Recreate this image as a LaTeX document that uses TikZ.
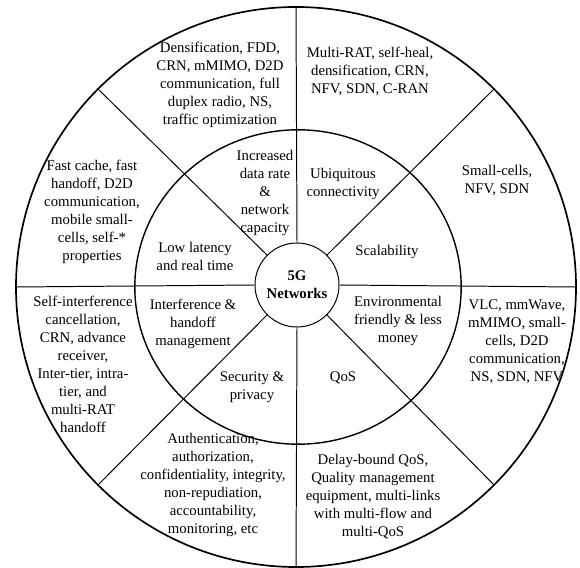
\documentclass[tikz,border=0pt]{standalone}
\usepackage{fontspec}
\setmainfont{Liberation Serif}
\usepackage{tikz}
\usetikzlibrary{positioning,calc}

\begin{document}
\begin{tikzpicture}[lbl/.style={align=center, font=\fontsize{10.5}{12.8}\selectfont, inner sep=1pt}]
    \useasboundingbox (-7.4,-7.0) rectangle (7.1,7.175);

    %coordinates
    \coordinate (orig) at (0,0);

    %rings
    \node[draw, circle, line width=1.2pt, minimum size=14cm, inner sep=0pt] (outer) at (orig) {};
    \draw[line width=1pt] ($(orig)+(0.05,0)$) ellipse (4.08cm and 3.93cm);
    \node[draw, circle, fill=white, line width=0.7pt, minimum size=2.1cm, inner sep=0pt, lbl, font=\fontsize{10.5}{12.8}\selectfont\bfseries] (net) at ($(orig)+(0.025,0.05)$) {5G\\Networks};

    %edges
    \foreach \a in {0,45,...,315}
        \draw[line width=0.7pt] (net.\a) -- (outer.\a);

    %middle ring
    \node[lbl] (rate) at ($(orig)+(-0.775,2.35)$) {Increased\\data rate\\\&\\network\\capacity};
    \node[lbl] (ubiq) at ($(orig)+(1.175,2.575)$) {Ubiquitous\\connectivity};
    \node[lbl] (scal) at ($(orig)+(2.275,0.875)$) {Scalability};
    \node[lbl] (lat) at ($(orig)+(-2.525,0.775)$) {Low latency\\and real time};
    \node[lbl] (env) at ($(orig)+(2.55,-0.85)$) {Environmental\\friendly \& less\\money};
    \node[lbl] (qos) at ($(orig)+(1.175,-2.275)$) {QoS};
    \node[lbl] (sec) at ($(orig)+(-1.1,-2.5)$) {Security \&\\privacy};
    \node[lbl] (intf) at ($(orig)+(-2.575,-0.925)$) {Interference \&\\handoff\\management};

    %outer ring
    \node[lbl] (A) at ($(orig)+(-1.9,5.05)$) {Densification, FDD,\\CRN, mMIMO, D2D\\communication, full\\duplex radio, NS,\\traffic optimization};
    \node[lbl] (B) at ($(orig)+(1.85,5.4)$) {Multi-RAT, self-heal,\\densification, CRN,\\NFV, SDN, C-RAN};
    \node[lbl] (C) at ($(orig)+(5.025,2.65)$) {Small-cells,\\NFV, SDN};
    \node[lbl] (D) at ($(orig)+(5.525,-1.375)$) {VLC, mmWave,\\mMIMO, small-\\cells, D2D\\communication,\\NS, SDN, NFV};
    \node[lbl] (E) at ($(orig)+(1.925,-5.25)$) {Delay-bound QoS,\\Quality management\\equipment, multi-links\\with multi-flow and\\multi-QoS};
    \node[lbl] (F) at ($(orig)+(-2.075,-4.95)$) {Authentication,\\authorization,\\confidentiality, integrity,\\non-repudiation,\\accountability,\\monitoring, etc};
    \node[lbl] (G) at ($(orig)+(-5.325,-1.925)$) {Self-interference\\cancellation,\\CRN, advance\\receiver,\\Inter-tier, intra-\\tier, and\\multi-RAT\\handoff};
    \node[lbl] (H) at ($(orig)+(-5.1,1.875)$) {Fast cache, fast\\handoff, D2D\\communication,\\mobile small-\\cells, self-*\\properties};
\end{tikzpicture}
\end{document}
